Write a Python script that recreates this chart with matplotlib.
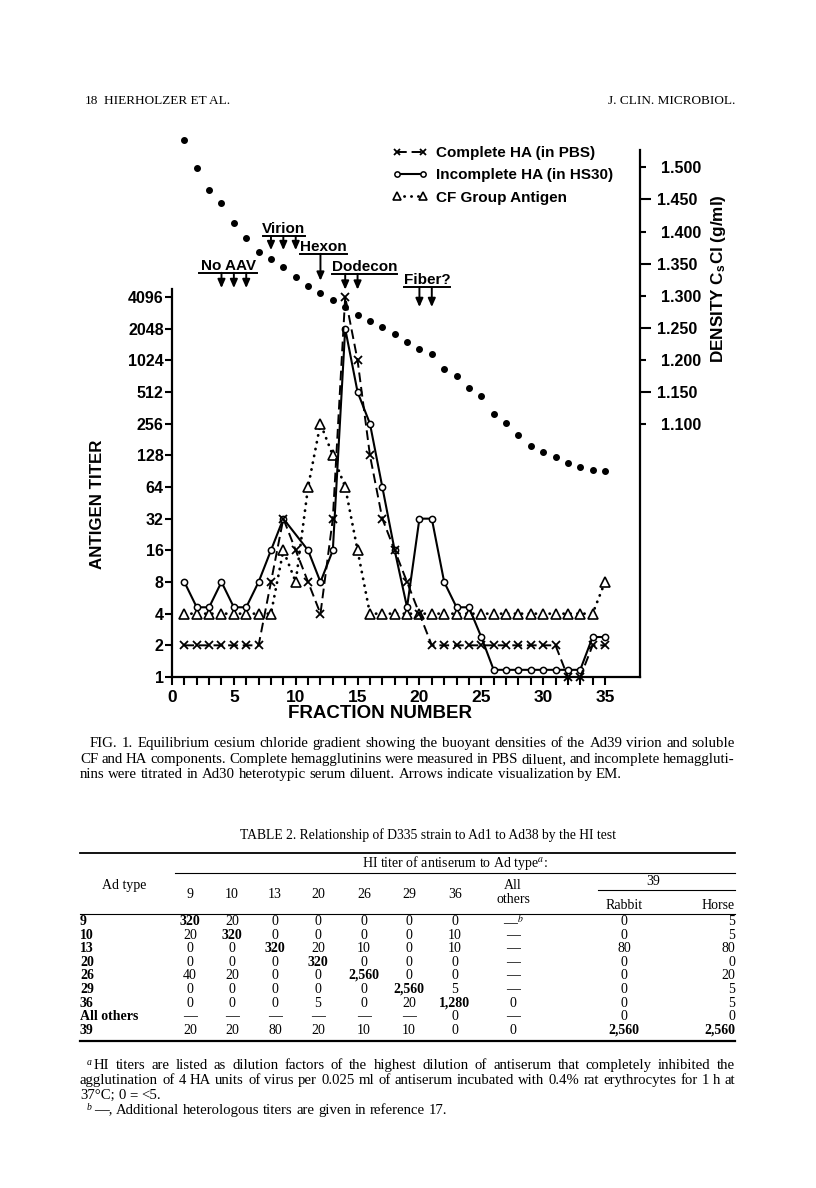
import numpy as np
import matplotlib.pyplot as plt
from matplotlib.lines import Line2D

plt.rcParams['font.family'] = ['Liberation Sans', 'DejaVu Sans']
plt.rcParams['mathtext.fontset'] = 'stix'

W, H = 816, 1188

# ---- figure data ----
fractions = list(range(1, 36))
density = [1.543, 1.499, 1.465, 1.445, 1.414, 1.390, 1.368, 1.358, 1.345, 1.330,
           1.316, 1.305, 1.294, 1.283, 1.270, 1.261, 1.252, 1.241, 1.228, 1.218,
           1.210, 1.186, 1.175, 1.157, 1.144, 1.116, 1.102, 1.084, 1.067, 1.057,
           1.049, 1.040, 1.034, 1.029, 1.028]
complete_ha = [2, 2, 2, 2, 2, 2, 2, 8, 32, 16, 8, 4, 32, 4096, 1024, 128, 32, 16, 8, 4,
               2, 2, 2, 2, 2, 2, 2, 2, 2, 2, 2, 1, 1, 2, 2]
incomplete_frac = [1, 2, 3, 4, 5, 6, 7, 8, 9, 11, 12, 13, 14, 15, 16, 17, 18, 19, 20,
                   21, 22, 23, 24, 25, 26, 27, 28, 29, 30, 31, 32, 33, 34, 35]
incomplete_ha = [8, 4.6, 4.6, 8, 4.6, 4.6, 8, 16, 32, 16, 8, 16, 2048, 512, 256, 64, 16,
                 4.6, 32, 32, 8, 4.6, 4.6, 2.4, 1.17, 1.17, 1.17, 1.17, 1.17, 1.17,
                 1.17, 1.17, 2.4, 2.4]
cf_antigen = [4, 4, 4, 4, 4, 4, 4, 4, 16, 8, 64, 256, 128, 64, 16, 4, 4, 4, 4, 4,
              4, 4, 4, 4, 4, 4, 4, 4, 4, 4, 4, 4, 4, 4, 8]
titer_ticks = [1, 2, 4, 8, 16, 32, 64, 128, 256, 512, 1024, 2048, 4096]
density_major = [1.1, 1.2, 1.3, 1.4, 1.5]
density_minor = [1.15, 1.25, 1.35, 1.45]

# EM arrows: label, label centre, underline span, arrow fractions
em_labels = ['No AAV', 'Virion', 'Hexon', 'Dodecon', 'Fiber?']
em_text_x = [4.53, 9.05, 12.25, 15.56, 20.6]
em_span = [(2.18, 6.87), (7.36, 10.75), (10.35, 14.15), (12.93, 18.19), (18.76, 22.47)]
em_line_y = [0.767, 0.837, 0.803, 0.765, 0.740]
em_arrow_y = [0.738, 0.810, 0.752, 0.735, 0.702]
em_arrows = [[4, 5, 6], [8, 9, 10], [12], [14, 15], [20, 21]]

# ---- table data ----
table_rows = ['9', '10', '13', '20', '26', '29', '36', 'All others', '39']
table_cols = ['9', '10', '13', '20', '26', '29', '36']
titers = [
    ['320', '20', '0', '0', '0', '0', '0', '—$^{b}$', '0', '5'],
    ['20', '320', '0', '0', '0', '0', '10', '—', '0', '5'],
    ['0', '0', '320', '20', '10', '0', '10', '—', '80', '80'],
    ['0', '0', '0', '320', '0', '0', '0', '—', '0', '0'],
    ['40', '20', '0', '0', '2,560', '0', '0', '—', '0', '20'],
    ['0', '0', '0', '0', '0', '2,560', '5', '—', '0', '5'],
    ['0', '0', '0', '5', '0', '20', '1,280', '0', '0', '5'],
    ['—', '—', '—', '—', '—', '—', '0', '—', '0', '0'],
    ['20', '20', '80', '20', '10', '10', '0', '0', '2,560', '2,560'],
]
bold_cells = [(0, 0), (1, 1), (2, 2), (3, 3), (4, 4), (5, 5), (6, 6), (8, 8), (8, 9)]

caption = [
    'FIG. 1. Equilibrium cesium chloride gradient showing the buoyant densities of the Ad39 virion and soluble',
    'CF and HA components. Complete hemagglutinins were measured in PBS diluent, and incomplete hemaggluti-',
    'nins were titrated in Ad30 heterotypic serum diluent. Arrows indicate visualization by EM.',
]
footnotes = [
    'HI titers are listed as dilution factors of the highest dilution of antiserum that completely inhibited the',
    'agglutination of 4 HA units of virus per 0.025 ml of antiserum incubated with 0.4% rat erythrocytes for 1 h at',
    '37°C; 0 = <5.',
    '—, Additional heterologous titers are given in reference 17.',
]


def fx(px):
    return px / W


def fy(py):
    return 1 - py / H


fig = plt.figure(figsize=(W / 100, H / 100), dpi=100)
renderer = fig.canvas.get_renderer()
serif = ['Liberation Serif', 'DejaVu Serif']


def put_line(text, x0, x1, y, size, justify=True, **kw):
    words = text.split(' ')
    ts = [fig.text(0, fy(y), w, fontsize=size, family=serif, va='baseline', **kw) for w in words]
    widths = [t.get_window_extent(renderer).width for t in ts]
    gap = size * 100 / 72 * 0.25
    if justify and len(words) > 1:
        gap = max(((x1 - x0) - sum(widths)) / (len(words) - 1), 1.5)
    x = x0
    for t, w in zip(ts, widths):
        t.set_x(fx(x))
        x += w + gap


# ---- chart ----
ax = fig.add_axes([fx(172), fy(677), fx(640) - fx(172), fy(150) - fy(677)])
ax.set_yscale('log', base=2)
ax.set_xlim(0, 37.83)
ax.set_ylim(1, 2 ** 16.64)

ax.plot(fractions, cf_antigen, color='k', lw=2, linestyle=(0, (0.1, 2.4)),
        dash_capstyle='round', marker='^', ms=7, mfc='white', mew=1.2, clip_on=False,
        label='CF Group Antigen')
ax.plot(incomplete_frac, incomplete_ha, color='k', lw=1.5, marker='o', ms=4.5,
        mfc='white', mew=1.1, clip_on=False, label='Incomplete HA (in HS30)')
ax.plot(fractions, complete_ha, color='k', lw=1.4, linestyle=(0, (5, 2.5)), marker='x',
        ms=5.5, mew=1.3, clip_on=False, label='Complete HA (in PBS)')

ax.spines['top'].set_visible(False)
ax.spines['right'].set_visible(False)
ax.spines['left'].set_bounds(1, 2 ** 12.25)
ax.spines['left'].set_linewidth(1.6)
ax.spines['bottom'].set_linewidth(1.6)
ax.set_yticks(titer_ticks)
ax.set_yticklabels([str(t) for t in titer_ticks])
ax.minorticks_off()
ax.set_xticks([0, 5, 10, 15, 20, 25, 30, 35])
ax.set_xticks(range(1, 36), minor=True)
ax.tick_params(axis='y', direction='out', length=5, width=1.5, pad=1, labelsize=11.5)
ax.tick_params(axis='x', which='both', direction='out', length=6, width=1.5, pad=3,
               labelsize=12.5)
for lab in ax.get_xticklabels() + ax.get_yticklabels():
    lab.set_fontweight('bold')

ax2 = ax.twinx()
ax2.set_ylim(0.707, 1.527)
ax2.plot(fractions, density, 'o', color='k', ms=4, clip_on=False)
for s in ['top', 'left', 'bottom']:
    ax2.spines[s].set_visible(False)
ax2.spines['right'].set_linewidth(1.6)
ax2.set_yticks(density_major)
ax2.set_yticklabels(['%.3f' % d for d in density_major])
ax2.set_yticks(density_minor, minor=True)
ax2.set_yticklabels(['%.3f' % d for d in density_minor], minor=True)
ax2.tick_params(axis='y', which='major', direction='out', length=4, width=1.5, pad=11,
                labelsize=11.5)
ax2.tick_params(axis='y', which='minor', direction='out', length=8, width=1.5, pad=4,
                labelsize=11.5)
for lab in ax2.get_yticklabels() + ax2.get_yticklabels(minor=True):
    lab.set_fontweight('bold')

# EM annotations
tr = ax.get_xaxis_transform()
for lab, tx, (x0, x1), ly, ay, arrs in zip(em_labels, em_text_x, em_span, em_line_y,
                                          em_arrow_y, em_arrows):
    ax.text(tx, ly + 0.006, lab, transform=tr, ha='center', va='baseline',
            fontsize=11, fontweight='bold')
    ax.plot([x0, x1], [ly, ly], transform=tr, color='k', lw=1.4, clip_on=False)
    for a in arrs:
        ax.annotate('', xy=(a, ay), xytext=(a, ly), xycoords=tr, textcoords=tr,
                    arrowprops=dict(arrowstyle='-|>,head_length=0.5,head_width=0.22',
                                    color='k', lw=1.4, shrinkA=0, shrinkB=0))

handles, labels = ax.get_legend_handles_labels()
fig.legend(handles[::-1], labels[::-1], loc='upper left',
           bbox_to_anchor=(fx(392), fy(146)), frameon=False, numpoints=2,
           prop={'size': 11, 'weight': 'bold'}, handlelength=2.3, handletextpad=0.6,
           labelspacing=0.55, borderpad=0, borderaxespad=0, markerscale=0.85)

fig.text(fx(380), fy(714), 'FRACTION NUMBER', ha='center', va='center',
         fontsize=13.5, fontweight='bold')
fig.text(fx(97), fy(504), 'ANTIGEN TITER', ha='center', va='center', rotation=90,
         fontsize=12.2, fontweight='bold')
fig.text(fx(719), fy(279), r'DENSITY C$_{\mathregular{s}}$Cl (g/ml)', ha='center',
         va='center', rotation=90, fontsize=12.3, fontweight='bold')

# ---- page header ----
fig.text(fx(85), fy(104), '18', fontsize=9.5, family=serif, va='baseline')
fig.text(fx(104), fy(104), 'HIERHOLZER ET AL.', fontsize=9.5, family=serif, va='baseline')
fig.text(fx(735), fy(104), 'J. CLIN. MICROBIOL.', fontsize=9.5, family=serif,
         va='baseline', ha='right')

# ---- caption ----
put_line(caption[0], 90, 735, 747, 10.7)
put_line(caption[1], 80, 735, 763, 10.7)
put_line(caption[2], 80, 735, 778, 10.7, justify=False)

# ---- table ----
def rule(x0, x1, y, lw=0.8):
    fig.add_artist(Line2D([fx(x0), fx(x1)], [fy(y), fy(y)], color='k', lw=lw))


tsize = 10
fig.text(fx(428), fy(839), 'TABLE 2. Relationship of D335 strain to Ad1 to Ad38 by the HI test',
         ha='center', va='baseline', fontsize=9.8, family=serif)
rule(80, 735, 853, 1.3)
fig.text(fx(455), fy(867), 'HI titer of antiserum to Ad type$^{a}$:', ha='center',
         va='baseline', fontsize=tsize, family=serif)
rule(175, 735, 873)
fig.text(fx(102), fy(889), 'Ad type', ha='left', va='baseline', fontsize=tsize, family=serif)
col_x = [190, 232, 275, 318, 364, 409, 455, 513, 624, 735]
col_ha = ['center'] * 9 + ['right']
for cx, name in zip(col_x, table_cols):
    fig.text(fx(cx), fy(898), name, ha='center', va='baseline', fontsize=tsize, family=serif)
fig.text(fx(513), fy(889), 'All', ha='center', va='baseline', fontsize=tsize, family=serif)
fig.text(fx(513), fy(903), 'others', ha='center', va='baseline', fontsize=tsize, family=serif)
fig.text(fx(653), fy(885), '39', ha='center', va='baseline', fontsize=tsize, family=serif)
rule(598, 735, 890)
fig.text(fx(624), fy(909), 'Rabbit', ha='center', va='baseline', fontsize=tsize, family=serif)
fig.text(fx(735), fy(909), 'Horse', ha='right', va='baseline', fontsize=tsize, family=serif)
rule(80, 735, 914)
row_y = [925, 939, 952, 966, 979, 993, 1007, 1020, 1034]
for i, (name, ry) in enumerate(zip(table_rows, row_y)):
    fig.text(fx(80), fy(ry), name, ha='left', va='baseline', fontsize=tsize, family=serif,
             fontweight='bold')
    for j, val in enumerate(titers[i]):
        fig.text(fx(col_x[j]), fy(ry), val, ha=col_ha[j], va='baseline', fontsize=tsize,
                 family=serif, fontweight='bold' if (i, j) in bold_cells else 'normal')
rule(80, 735, 1041, 1.6)

# footnotes
fsize = 10.6
fig.text(fx(87), fy(1065), 'a', fontsize=7, family=serif, style='italic', va='baseline')
put_line(footnotes[0], 94, 735, 1069, fsize)
put_line(footnotes[1], 80, 735, 1084, fsize)
put_line(footnotes[2], 80, 735, 1099, fsize, justify=False)
fig.text(fx(87), fy(1110), 'b', fontsize=7, family=serif, style='italic', va='baseline')
put_line(footnotes[3], 94, 735, 1114, fsize, justify=False)

fig.savefig('out.png', dpi=100)
